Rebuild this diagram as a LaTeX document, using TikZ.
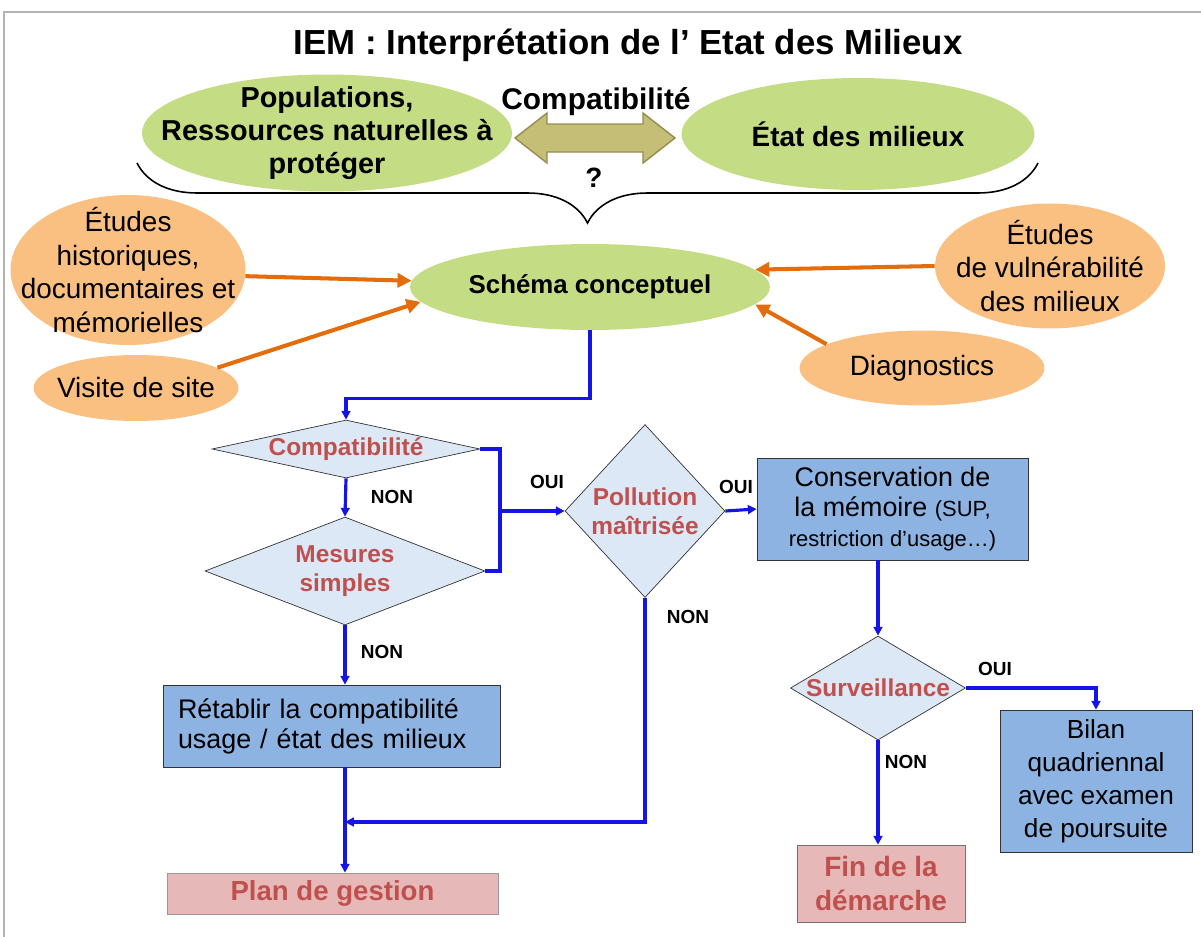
\documentclass[tikz,border=0pt]{standalone}
\usepackage{fontspec}
\setmainfont{Liberation Sans}
\usetikzlibrary{shapes.geometric,arrows.meta,decorations.pathreplacing,positioning}

\definecolor{leaf}{RGB}{196,220,132}
\definecolor{apricot}{RGB}{250,192,130}
\definecolor{rust}{RGB}{228,108,10}
\definecolor{khaki}{RGB}{196,190,118}
\definecolor{khakiline}{RGB}{150,140,80}
\definecolor{pale}{RGB}{220,232,245}
\definecolor{brick}{RGB}{192,80,77}
\definecolor{steel}{RGB}{141,179,226}
\definecolor{blush}{RGB}{230,185,184}
\definecolor{flowblue}{RGB}{20,20,230}

\tikzset{
  greenell/.style={ellipse, fill=leaf, inner sep=0pt},
  orangeell/.style={ellipse, fill=apricot, inner sep=0pt},
  gtext/.style={align=center, font=\fontsize{#1}{18.7}\selectfont\bfseries},
  otext/.style={align=center, font=\fontsize{15.9}{19.3}\selectfont},
  question/.style={diamond, draw=black!80, fill=pale, inner sep=0pt},
  qtext/.style={text=brick, font=\fontsize{13.9}{16.4}\selectfont\bfseries, align=center},
  action/.style={rectangle, draw=black!80, fill=steel, align=center, inner sep=0pt},
  finish/.style={rectangle, draw=black!55, fill=blush, align=center, text=brick, inner sep=0pt},
  link/.style={draw=flowblue, line width=1.8pt},
  flow/.style={link, -{Triangle[length=5pt,width=5pt]}},
  feed/.style={draw=rust, line width=2.3pt, -{Triangle[length=8pt,width=8pt]}},
  yesno/.style={font=\fontsize{10.8}{13}\selectfont\bfseries},
}

\begin{document}
\begin{tikzpicture}[x=0.02cm, y=-0.02cm]
        \useasboundingbox (0,0) rectangle (1201,937);
        \draw[gray!60, line width=1pt] (4,937) |- (1201,12);

        % Title
        \node (title) at (628,45) {\fontsize{19.8}{24}\selectfont\bfseries IEM : Interprétation de l’ Etat des Milieux};

        % Top: what must be compatible
        \node[greenell, minimum width=7.4cm, minimum height=2.34cm, label={[gtext=16.4]center:Populations,\\Ressources naturelles à\\protéger}] (pop) at (327,133) {};
        \node[greenell, minimum width=7.06cm, minimum height=2.24cm, label={[gtext=15.9]center:État des milieux}] (etat) at (858,134) {};
        \filldraw[fill=khaki, draw=khakiline, line width=0.8pt] (515,138) -- (547,113) -- (547,124) -- (643,124) -- (643,113) -- (675,138) -- (643,163) -- (643,152) -- (547,152) -- (547,163) -- cycle;
        \node[font=\fontsize{17}{20}\selectfont\bfseries] (compatlbl) at (596,102) {Compatibilité};
        \node[font=\fontsize{15.9}{19}\selectfont\bfseries] (quest) at (594,178) {?};
        \draw[decorate, decoration={brace, mirror, amplitude=1.2cm}, line width=0.9pt] (137,163) -- (1038,163);

        % Conceptual scheme and its inputs
        \node[greenell, minimum width=7.2cm, minimum height=1.72cm, label={[gtext=14.7]center:Schéma conceptuel}] (schema) at (590,287) {};
        \node[orangeell, minimum width=4.7cm, minimum height=3.0cm, label={[otext]center:Études\\historiques,\\documentaires et\\mémorielles}] (hist) at (128,270) {};
        \node[orangeell, minimum width=4.1cm, minimum height=1.32cm, label={[otext]center:Visite de site}] (visite) at (136,388) {};
        \node[orangeell, minimum width=4.6cm, minimum height=2.5cm, label={[otext]center:Études\\de vulnérabilité\\des milieux}] (vuln) at (1050,266) {};
        \node[orangeell, minimum width=4.9cm, minimum height=1.5cm, label={[otext]center:Diagnostics}] (diag) at (922,368) {};

        \draw[feed] (hist.-3) -- (schema.178);
        \draw[feed] (visite.14) -- (schema.185);
        \draw[feed] (vuln.west) -- (schema.6);
        \draw[feed] (diag.166) -- (schema.-6);

        % Decisions
        \node[question, minimum width=5.36cm, minimum height=1.16cm, label={[qtext]center:Compatibilité}] (compat) at (346,449) {};
        \node[question, minimum width=5.6cm, minimum height=2.16cm, label={[qtext]center:Mesures\\simples}] (mesures) at (345,571) {};
        \node[question, minimum width=3.2cm, minimum height=3.46cm, label={[qtext]center:Pollution\\maîtrisée}] (pollu) at (645,511) {};
        \node[question, minimum width=3.5cm, minimum height=2.08cm, label={[qtext]center:Surveillance}] (surv) at (878,688) {};

        % Actions and ends
        \node[action, minimum width=6.74cm, minimum height=1.64cm, text width=6.14cm, align=left, font=\fontsize{15.3}{17}\selectfont] (retab) at (331.5,726) {Rétablir la compatibilité\\usage / état des milieux};
        \node[action, minimum width=5.42cm, minimum height=2.04cm, font=\fontsize{15.3}{17}\selectfont] (conserv) at (892.5,509) {Conservation de\\la mémoire {\fontsize{12.5}{15}\selectfont (SUP,}\\{\fontsize{12.5}{15}\selectfont restriction d’usage…)}};
        \node[action, minimum width=3.84cm, minimum height=2.84cm, font=\fontsize{14.9}{18.7}\selectfont] (bilan) at (1096,781) {Bilan\\quadriennal\\avec examen\\de poursuite};
        \node[finish, minimum width=3.36cm, minimum height=1.54cm, font=\fontsize{15.9}{19.3}\selectfont\bfseries] (fin) at (881,883.5) {Fin de la\\démarche};
        \node[finish, draw=black!40, minimum width=6.62cm, minimum height=0.82cm, font=\fontsize{15.7}{18}\selectfont\bfseries] (plan) at (332.5,893.5) {Plan de gestion};

        % Flow
        \coordinate (join) at (500,511);
        \coordinate (merge) at (345,822);
        \draw[flow] (schema.south) -- ++(0,68) -| (compat.north);
        \draw[flow] (compat.south) -- (mesures.north);
        \draw[link] (compat.east) -| (join) |- (mesures.east);
        \draw[flow] (join) -- (pollu.west);
        \draw[flow] (mesures.south) -- (mesures.south |- retab.north);
        \draw[flow] (pollu.east) -- (conserv.west);
        \draw[flow] (pollu.south) |- (merge);
        \draw[flow] (retab.south -| merge) -- (plan.north -| merge);
        \draw[flow] (conserv.south -| surv.north) -- (surv.north);
        \draw[flow] (surv.east) -| (bilan.north);
        \draw[flow] (surv.south) -- (surv.south |- fin.north);

        % Answers
        \node[yesno] (non1) at (392,497) {NON};
        \node[yesno] (oui1) at (547,482) {OUI};
        \node[yesno] (non2) at (382,652) {NON};
        \node[yesno] (non3) at (688,617) {NON};
        \node[yesno] (oui2) at (736,487) {OUI};
        \node[yesno] (oui3) at (995,669) {OUI};
        \node[yesno] (non4) at (906,762) {NON};
    \end{tikzpicture}
\end{document}
